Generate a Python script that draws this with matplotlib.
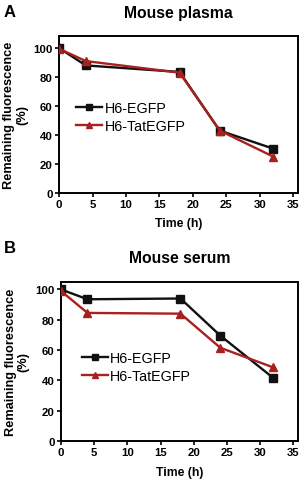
import matplotlib
matplotlib.use("Agg")
import matplotlib.pyplot as plt

plt.rcParams["font.family"] = ["Liberation Sans", "DejaVu Sans"]
plt.rcParams["font.weight"] = "bold"

time_h = [0, 4, 18, 24, 32]
plasma_egfp = [100, 88, 83.5, 43, 30.5]
plasma_tat = [99.5, 91, 83, 43, 25]
serum_egfp = [100, 93.5, 94, 69.5, 41.5]
serum_tat = [99, 84.5, 84, 61.5, 48.5]
series_names = ["H6-EGFP", "H6-TatEGFP"]
xticks = [0, 5, 10, 15, 20, 25, 30, 35]
yticks = [0, 20, 40, 60, 80, 100]

black = "#111111"
red = "#a8201f"

fig = plt.figure(figsize=(3.06, 4.81), dpi=100)

panels = [
    ("A", "Mouse plasma", plasma_egfp, plasma_tat, [0.193, 0.597, 0.781, 0.326], 108.3, (0.07, 0.485)),
    ("B", "Mouse serum", serum_egfp, serum_tat, [0.199, 0.081, 0.775, 0.331], 105, (0.088, 0.465)),
]

for letter, title, egfp, tat, pos, ytop, legpos in panels:
    ax = fig.add_axes(pos)
    ax.plot(time_h, egfp, color=black, marker="s", markersize=6, lw=1.7, label=series_names[0], zorder=3)
    ax.plot(time_h, tat, color=red, marker="^", markersize=6, lw=1.7, label=series_names[1], zorder=4)
    ax.set_xlim(0, 35.7)
    ax.set_ylim(0, ytop)
    ax.set_xticks(xticks)
    ax.set_yticks(yticks)
    ax.tick_params(direction="out", length=3, width=1.2, labelsize=8.2, pad=1.5)
    for lab in ax.get_xticklabels() + ax.get_yticklabels():
        lab.set_fontweight("bold")
    for sp in ax.spines.values():
        sp.set_linewidth(1.4)
    ax.set_xlabel("Time (h)", fontsize=8.8, fontweight="bold", labelpad=6)
    ax.set_ylabel("Remaining fluorescence\n(%)", fontsize=9.2, fontweight="bold", labelpad=4, linespacing=1.05)
    leg = ax.legend(loc="center left", bbox_to_anchor=legpos, frameon=False, fontsize=10.3,
                    handlelength=1.8, handletextpad=0.2, labelspacing=0.3, borderaxespad=0,
                    borderpad=0, markerscale=0.75)
    for t in leg.get_texts():
        t.set_fontweight("normal")
    ax.set_title(title, fontsize=11.3, fontweight="bold", pad=14)
    fig.text(0.013, pos[1] + pos[3] + (0.052 if letter == "A" else 0.072), letter,
             fontsize=12, fontweight="bold", va="center")

fig.savefig("out.png", dpi=100)
